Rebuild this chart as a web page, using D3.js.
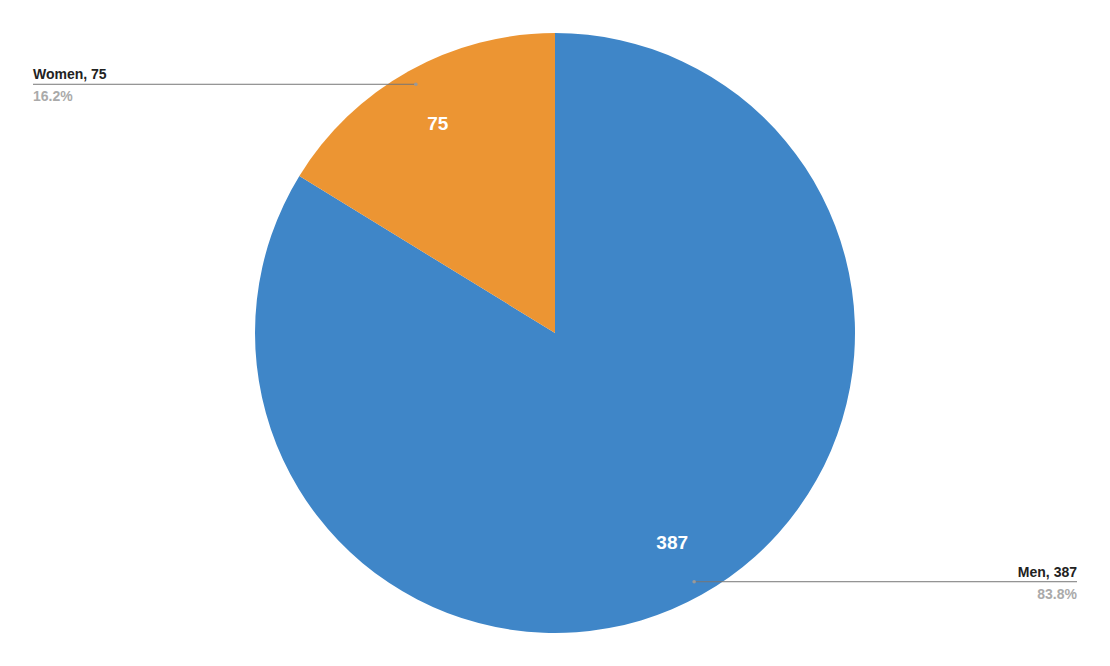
<!DOCTYPE html>
<html><head><meta charset="utf-8">
<script src="https://cdn.jsdelivr.net/npm/d3@7"></script>
<style>body{margin:0;background:#fff;} text{font-family:Arial,"Liberation Sans",sans-serif;}</style>
</head><body>
<svg id="c" width="1110" height="666"></svg>
<script>
const categories = ["Men", "Women"];
const values = [387, 75];
const colors = ["#3f86c8", "#ec9533"];

const W = 1110, H = 666, cx = 555, cy = 333, R = 300;
const svg = d3.select("#c");
const g = svg.append("g").attr("transform", `translate(${cx},${cy})`);
const data = categories.map((c, i) => ({cat: c, val: values[i], color: colors[i]}));
const total = d3.sum(values);
const pie = d3.pie().value(d => d.val).sort(null);
const arcs = pie(data);
const arc = d3.arc().innerRadius(0).outerRadius(R);
const labelArc = d3.arc().innerRadius(R * 0.80).outerRadius(R * 0.80);
const dotArc = d3.arc().innerRadius(R * 0.95).outerRadius(R * 0.95);

g.selectAll("path.s").data(arcs).enter().append("path")
  .attr("d", arc).attr("fill", d => d.data.color);

g.selectAll("text.in").data(arcs).enter().append("text")
  .attr("transform", d => `translate(${labelArc.centroid(d)})`)
  .attr("text-anchor", "middle").attr("dy", "0.35em")
  .attr("fill", "#fff").attr("font-size", 19).attr("font-weight", "bold")
  .attr("font-family", "Roboto, Arial, sans-serif")
  .text(d => d.data.val);

arcs.forEach(d => {
  const [px, py] = dotArc.centroid(d);
  const mid = (d.startAngle + d.endAngle) / 2;
  const right = Math.sin(mid) > 0;
  const ex = right ? 1077 - cx : 33 - cx;
  const ly = py;
  g.append("line").attr("x1", px).attr("y1", ly).attr("x2", ex).attr("y2", ly)
    .attr("stroke", "#777").attr("stroke-width", 1);
  g.append("circle").attr("cx", px).attr("cy", ly).attr("r", 1.8).attr("fill", "#999");
  const anchor = right ? "end" : "start";
  g.append("text").attr("x", ex).attr("y", ly - 5).attr("text-anchor", anchor)
    .attr("font-size", 14).attr("font-weight", "bold").attr("fill", "#222")
    .text(`${d.data.cat}, ${d.data.val}`);
  g.append("text").attr("x", ex).attr("y", ly + 17).attr("text-anchor", anchor)
    .attr("font-size", 14).attr("font-weight", "bold").attr("fill", "#aaa")
    .text(`${(d.data.val / total * 100).toFixed(1)}%`);
});
</script>
</body></html>
